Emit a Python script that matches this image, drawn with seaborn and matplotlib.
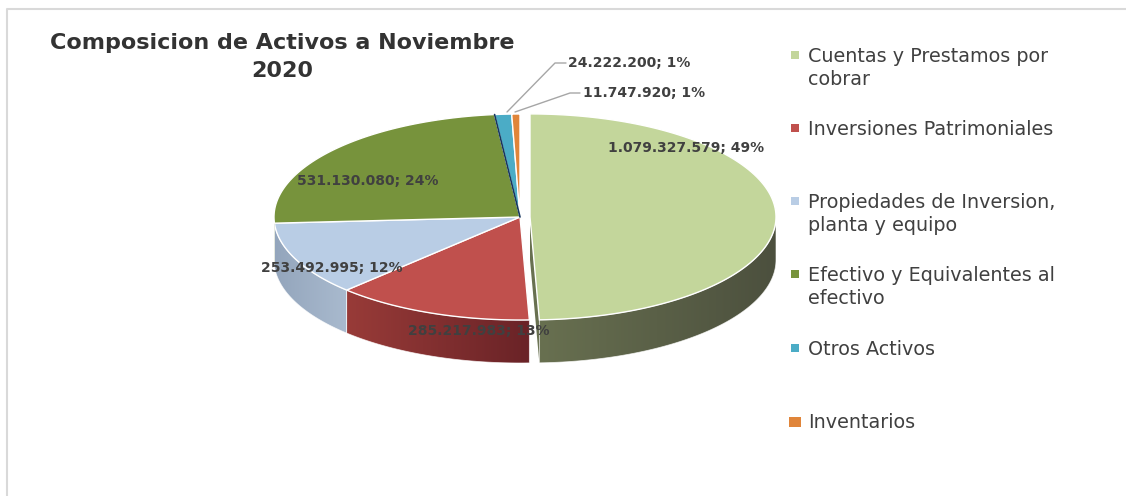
import numpy as np
import matplotlib
matplotlib.use("Agg")
import matplotlib.pyplot as plt
from matplotlib.patches import Polygon, Rectangle
import seaborn as sns

# data
categories = [
    "Cuentas y Prestamos por\ncobrar",
    "Inversiones Patrimoniales",
    "Propiedades de Inversion,\nplanta y equipo",
    "Efectivo y Equivalentes al\nefectivo",
    "Otros Activos",
    "Inventarios",
]
values = [1079327579, 285217983, 253492995, 531130080, 24222200, 11747920]
value_labels = ["1.079.327.579", "285.217.983", "253.492.995", "531.130.080",
                "24.222.200", "11.747.920"]
title = "Composicion de Activos a Noviembre\n2020"

# style
top_colors = ["#C3D69B", "#C0504D", "#B9CDE5", "#77933C", "#4BACC6", "#E0853A"]
side_colors = [("#687050", "#4C503E"), ("#983B38", "#6A2327"),
               ("#93A5BC", "#A9BACE"), ("#617A31", "#5A7230"),
               ("#3A8CA2", "#3A8CA2"), ("#B86A2C", "#B86A2C")]
explode_px = [10, 0, 0, 0, 0, 0]

CX, CY = 520, 217
RX, RY = 246, 103
DEPTH = 43
TEXT = "#404040"

sns.set_theme(style="white")
plt.rcParams["font.family"] = ["DejaVu Sans"]

fig = plt.figure(figsize=(11.26, 4.96), dpi=100)
ax = fig.add_axes([0, 0, 1, 1])
ax.set_xlim(0, 1126)
ax.set_ylim(496, 0)
ax.axis("off")

# chart border (only top and left visible in crop)
ax.plot([7, 7, 1126], [496, 9, 9], color="#D9D9D9", lw=1.5, zorder=0)

fracs = np.array(values, dtype=float) / sum(values)
ends = np.cumsum(fracs) * 360
starts = ends - fracs * 360


def rim(c, a, b, n=120):
    t = np.radians(np.linspace(a, b, n))
    return np.column_stack([c[0] + RX * np.sin(t), c[1] - RY * np.cos(t)])


def grad_fill(poly_xy, c1, c2, z):
    poly = Polygon(poly_xy, closed=True, facecolor="none", edgecolor="none")
    ax.add_patch(poly)
    x0, x1 = poly_xy[:, 0].min(), poly_xy[:, 0].max()
    y0, y1 = poly_xy[:, 1].min(), poly_xy[:, 1].max()
    a = np.array(matplotlib.colors.to_rgb(c1))
    b = np.array(matplotlib.colors.to_rgb(c2))
    t = np.linspace(0, 1, 64)[None, :, None]
    img = a + (b - a) * t
    im = ax.imshow(img, extent=(x0, x1, y1, y0), aspect="auto",
                   interpolation="bilinear", zorder=z)
    im.set_clip_path(poly)
    ax.add_patch(Polygon(poly_xy, closed=True, facecolor="none",
                         edgecolor="white", lw=0.6, alpha=0.7, zorder=z + 0.1))


centers = []
for i in range(len(values)):
    mid = np.radians((starts[i] + ends[i]) / 2)
    centers.append((CX + explode_px[i] * np.sin(mid),
                    CY - explode_px[i] * np.cos(mid) * RY / RX))

order = [i for i in range(len(values)) if explode_px[i] == 0] + \
        [i for i in range(len(values)) if explode_px[i] > 0]

z = 1
for i in order:
    c = centers[i]
    a, b = starts[i], ends[i]
    # radial cut face of exploded slice (facing left)
    if explode_px[i] > 0:
        p_top = rim(c, b, b, 1)[0]
        face = np.array([c, p_top, p_top + [0, DEPTH], [c[0], c[1] + DEPTH]])
        ax.add_patch(Polygon(face, closed=True, facecolor=side_colors[i][0],
                             edgecolor="none", zorder=z))
    # outer side wall, front half only
    lo, hi = max(a, 90), min(b, 270)
    if hi > lo:
        top = rim(c, lo, hi)
        wall = np.vstack([top, top[::-1] + [0, DEPTH]])
        grad_fill(wall, side_colors[i][0], side_colors[i][1], z + 0.5)
    # top face
    face = np.vstack([[c], rim(c, a, b)])
    ax.add_patch(Polygon(face, closed=True, facecolor=top_colors[i],
                         edgecolor="white", lw=1.0, zorder=z + 1))
    z += 2

# thin dark cut edge between Efectivo and Otros
p = rim(centers[4], starts[4], starts[4], 1)[0]
ax.plot([centers[4][0], p[0]], [centers[4][1], p[1]], color="#17375E",
        lw=1.2, zorder=z)

# data labels
pcts = [f"{round(f * 100):.0f}%" for f in fracs]
label_pos = [(686, 148), (479, 331), (332, 268), (368, 181), (629, 63), (644, 93)]
for i, (x, y) in enumerate(label_pos):
    ax.text(x, y, f"{value_labels[i]}; {pcts[i]}", ha="center", va="center",
            fontsize=10, fontweight="bold", color=TEXT, zorder=50)

# leader lines for the two small slices
for i, (xs, ys) in zip([4, 5], [([566, 555, 507], [63, 63, 112]),
                                ([580, 570, 515], [93, 93, 112])]):
    ax.plot(xs, ys, color="#A6A6A6", lw=1.0, zorder=49)

# title
ax.text(282, 57, title, ha="center", va="center", fontsize=16,
        fontweight="bold", color="#333333", linespacing=1.5)

# legend
leg_y = [55, 128, 201, 274, 348, 421]
for i, y in enumerate(leg_y):
    w = 12 if i == 5 else 8
    ax.add_patch(Rectangle((795 - w / 2, y - 4), w, 8 if i < 5 else 10,
                           facecolor=top_colors[i], edgecolor="none"))
    ax.text(808, y - 8, categories[i], ha="left", va="top", fontsize=13.8,
            color=TEXT, linespacing=1.27)

fig.savefig("out.png", dpi=100, facecolor="white")
